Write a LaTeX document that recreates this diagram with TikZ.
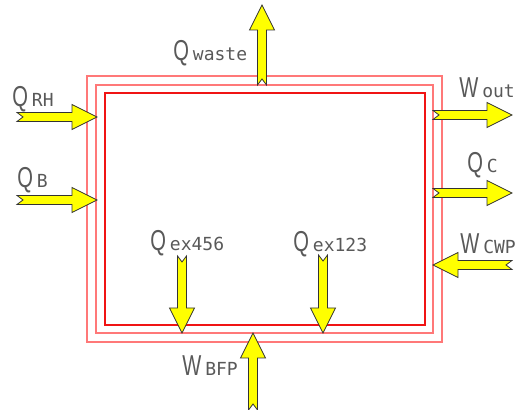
\documentclass[tikz,border=0pt]{standalone}
\usepackage{fontspec}
\newfontfamily\capfont[FakeStretch=0.7]{Liberation Sans}
\newfontfamily\subfont{DejaVu Sans Mono}
\usetikzlibrary{positioning}
\definecolor{wallred}{RGB}{255,120,120}
\definecolor{innerred}{RGB}{240,20,20}
\definecolor{flowyellow}{RGB}{255,255,0}
\newcommand{\flow}[2]{{\fontsize{21.6}{22}\capfont #1}\hspace{3pt}{\fontsize{13.5}{14}\subfont #2}}

\tikzset{
  wall/.style={draw=wallred,line width=0.9pt},
  corewall/.style={draw=innerred,line width=0.8pt},
  flowlab/.style={anchor=base west,inner sep=0pt,text=black!65},
  pics/fatarrow/.style={code={
    \draw[fill=flowyellow,draw=black!80,line width=0.6pt,line join=miter]
      (0,-4.5) -- (#1-25,-4.5) -- (#1-25,-12.5) -- (#1,0) -- (#1-25,12.5)
      -- (#1-25,4.5) -- (0,4.5) -- (6,0) -- cycle;}},
}

\begin{document}
\begin{tikzpicture}[x=0.75pt,y=-0.75pt]
\useasboundingbox (0,0) rectangle (519,410);
% walls
\draw[wall] (87,76) rectangle (442,342);
\draw[wall] (96,85) rectangle (433,333);
\draw[corewall] (105,93) rectangle (425,325);
% flow labels
\node[flowlab] (qrh) at (12,107) {\flow{Q}{RH}};
\node[flowlab] (qb) at (17,188) {\flow{Q}{B}};
\node[flowlab] (qwaste) at (173,61) {\flow{Q}{waste}};
\node[flowlab] (wout) at (459,98) {\flow{W}{out}};
\node[flowlab] (qc) at (467,173) {\flow{Q}{C}};
\node[flowlab] (wcwp) at (460,254) {\flow{W}{CWP}};
\node[flowlab] (qex456) at (150,251) {\flow{Q}{ex456}};
\node[flowlab] (qex123) at (293,252) {\flow{Q}{ex123}};
\node[flowlab] (wbfp) at (182,376) {\flow{W}{BFP}};
% arrow tails
\coordinate (rh-in) at (17,117);
\coordinate (b-in) at (17,200);
\coordinate (waste-out) at (262,85);
\coordinate (w-out) at (433,115);
\coordinate (c-out) at (433,193);
\coordinate (cwp-in) at (512,265);
\coordinate (ex456-in) at (182,256);
\coordinate (ex123-in) at (323,255);
\coordinate (bfp-in) at (253,410);
% arrows
\pic at (rh-in) {fatarrow=80};
\pic at (b-in) {fatarrow=80};
\pic[rotate=90] at (waste-out) {fatarrow=80};
\pic at (w-out) {fatarrow=79};
\pic at (c-out) {fatarrow=79};
\pic[rotate=180] at (cwp-in) {fatarrow=79};
\pic[rotate=-90] at (ex456-in) {fatarrow=77};
\pic[rotate=-90] at (ex123-in) {fatarrow=78};
\pic[rotate=90] at (bfp-in) {fatarrow=77};
\end{tikzpicture}
\end{document}
